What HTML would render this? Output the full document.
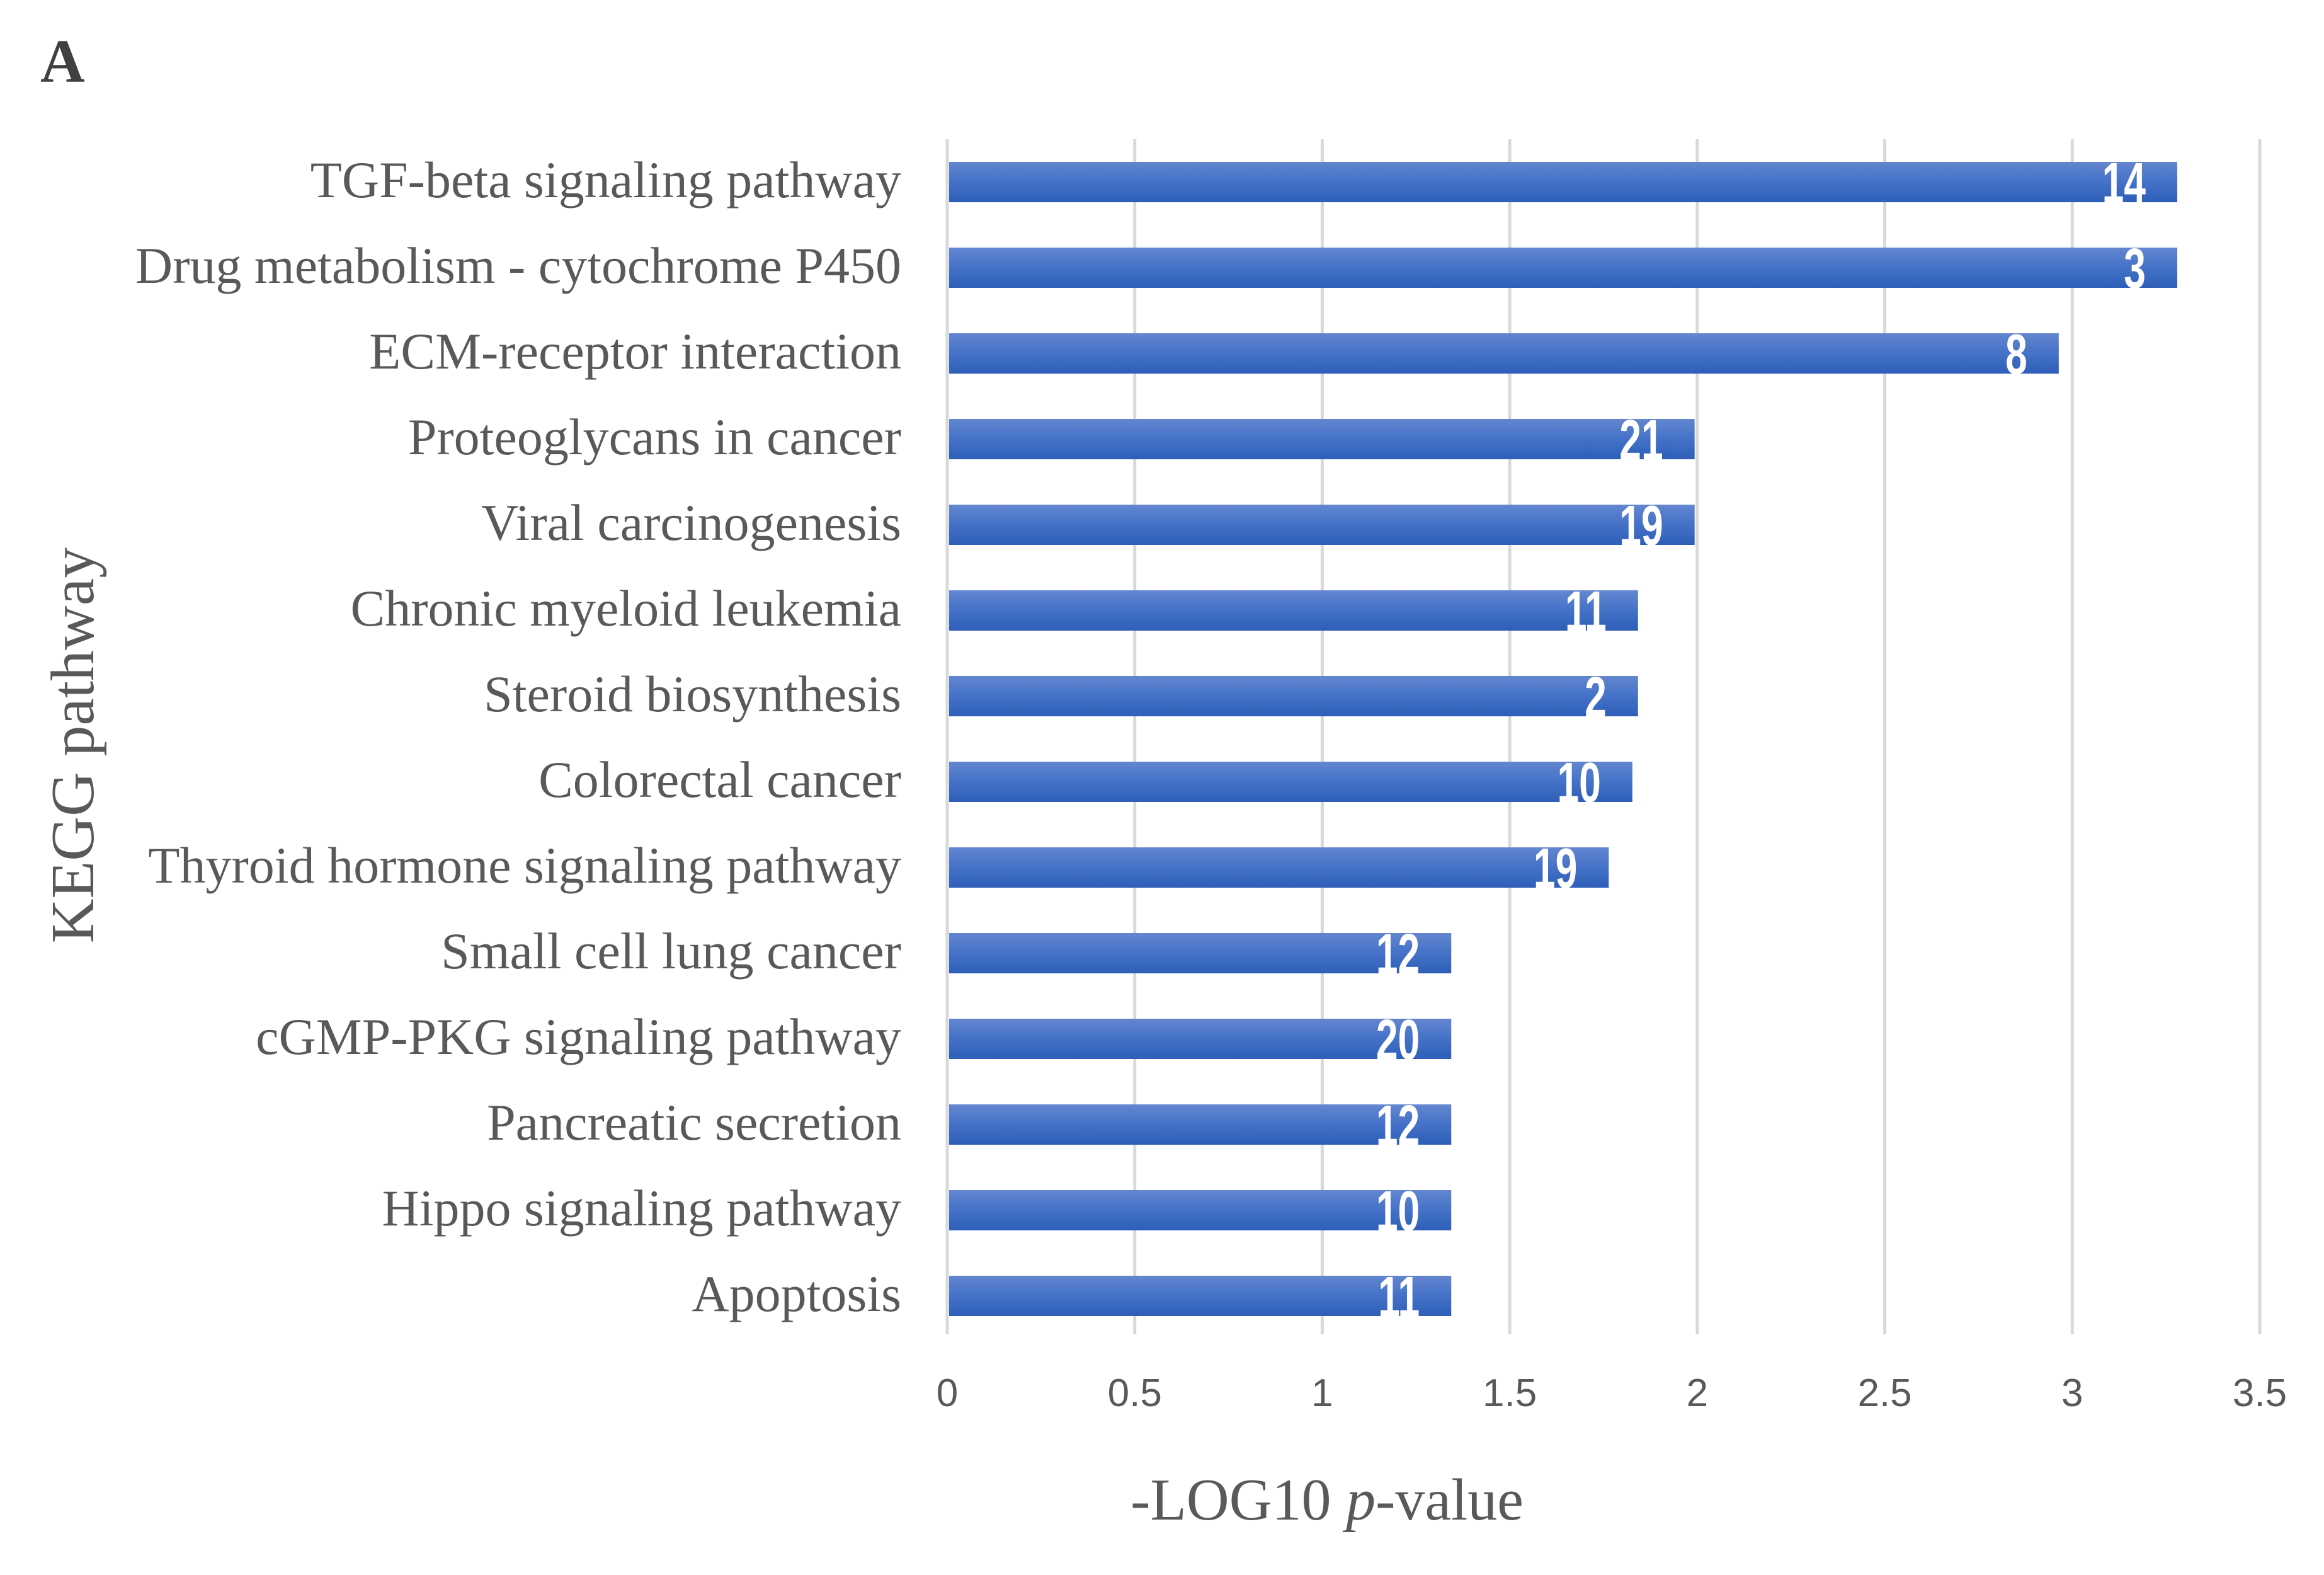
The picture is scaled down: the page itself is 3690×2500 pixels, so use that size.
<!DOCTYPE html>
<html><head><meta charset="utf-8"><style>
html,body{margin:0;padding:0;background:#fff;}
svg{display:block;}
</style></head><body>
<svg id="chart" width="3690" height="2500" viewBox="0 0 3690 2500" xmlns="http://www.w3.org/2000/svg">
<defs>
<linearGradient id="barGrad" x1="0" y1="0" x2="0" y2="1">
<stop offset="0" stop-color="#6486cf"/>
<stop offset="0.5" stop-color="#4472c8"/>
<stop offset="1" stop-color="#2e5eb8"/>
</linearGradient>
</defs>
<text x="64" y="130" font-family="Liberation Serif, serif" font-weight="bold" font-size="98" fill="#404040">A</text>
<g id="grid"></g>
<g id="bars"></g>
<g id="labels"></g>
<g id="ticks"></g>
<text x="2107" y="2412" text-anchor="middle" font-family="Liberation Serif, serif" font-size="94" fill="#595959">-LOG10 <tspan font-style="italic">p</tspan>-value</text>
<text transform="translate(148,1183) rotate(-90)" text-anchor="middle" font-family="Liberation Serif, serif" font-size="98" fill="#595959">KEGG pathway</text>
</svg>
<script>
const categories = ["TGF-beta signaling pathway","Drug metabolism - cytochrome P450","ECM-receptor interaction","Proteoglycans in cancer","Viral carcinogenesis","Chronic myeloid leukemia","Steroid biosynthesis","Colorectal cancer","Thyroid hormone signaling pathway","Small cell lung cancer","cGMP-PKG signaling pathway","Pancreatic secretion","Hippo signaling pathway","Apoptosis"];
const values = [3.28,3.28,2.964,1.993,1.993,1.842,1.842,1.827,1.764,1.344,1.344,1.344,1.344,1.344];
const geneCounts = [14,3,8,21,19,11,2,10,19,12,20,12,10,11];
const tickValues = [0,0.5,1,1.5,2,2.5,3,3.5];
const tickLabels = ["0","0.5","1","1.5","2","2.5","3","3.5"];

const NS = "http://www.w3.org/2000/svg";
const x0 = 1504, x1 = 3588, xMax = 3.5;
const xScale = v => x0 + (v / xMax) * (x1 - x0);
const yTop = 221, band = 136, firstCenter = 289, barH = 64;
const yCenter = i => firstCenter + i * band;

const grid = document.getElementById('grid');
const ticks = document.getElementById('ticks');
tickValues.forEach((t, i) => {
  const l = document.createElementNS(NS, 'line');
  l.setAttribute('x1', xScale(t)); l.setAttribute('x2', xScale(t));
  l.setAttribute('y1', yTop); l.setAttribute('y2', 2118);
  l.setAttribute('stroke', '#d9d9d9'); l.setAttribute('stroke-width', '5');
  
  
  grid.appendChild(l);
  const tx = document.createElementNS(NS, 'text');
  tx.setAttribute('x', xScale(t)); tx.setAttribute('y', 2232);
  tx.setAttribute('text-anchor', 'middle');
  tx.setAttribute('font-family', 'Liberation Sans, sans-serif');
  tx.setAttribute('font-size', '62'); tx.setAttribute('fill', '#595959');
  tx.textContent = tickLabels[i];
  
  
  ticks.appendChild(tx);
});

const bars = document.getElementById('bars');
const labels = document.getElementById('labels');
categories.forEach((c, i) => {
  const cy = yCenter(i);
  const r = document.createElementNS(NS, 'rect');
  r.setAttribute('x', x0 + 3); r.setAttribute('y', cy - barH / 2);
  r.setAttribute('width', xScale(values[i]) - x0 - 3); r.setAttribute('height', barH);
  r.setAttribute('fill', 'url(#barGrad)');
  
  
  bars.appendChild(r);
  const ex = xScale(values[i]) - 50;
  const v = document.createElementNS(NS, 'text');
  v.setAttribute('x', 0); v.setAttribute('y', 0);
  v.setAttribute('transform', 'translate(' + ex + ',' + (cy + 32) + ') scale(0.8,1.15)');
  v.setAttribute('text-anchor', 'end');
  v.setAttribute('font-family', 'Liberation Sans, sans-serif');
  v.setAttribute('font-weight', 'bold');
  v.setAttribute('font-size', '78'); v.setAttribute('fill', '#ffffff');
  v.textContent = geneCounts[i];
  
  
  bars.appendChild(v);
  const t = document.createElementNS(NS, 'text');
  t.setAttribute('x', 1431); t.setAttribute('y', cy + 24);
  t.setAttribute('text-anchor', 'end');
  t.setAttribute('font-family', 'Liberation Serif, serif');
  t.setAttribute('font-size', '82'); t.setAttribute('fill', '#595959');
  t.textContent = c;
  
  
  labels.appendChild(t);
});
</script>
</body></html>
